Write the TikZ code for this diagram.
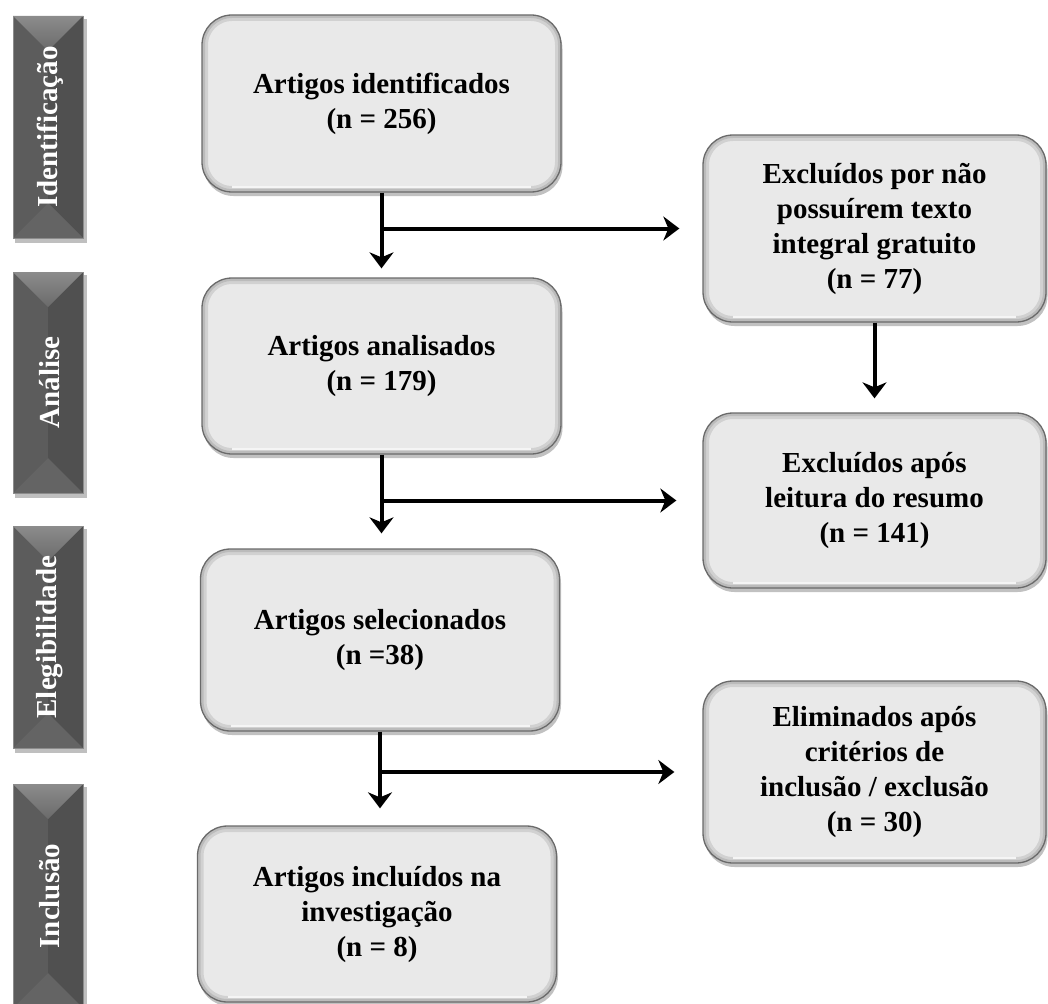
\documentclass[tikz,border=0pt]{standalone}
\usepackage{fontspec}
\setmainfont{Liberation Serif}
\usetikzlibrary{arrows.meta,shadows,calc}
\definecolor{boxfill}{HTML}{E9E9E9}
\definecolor{boxline}{HTML}{6A6A6A}
\definecolor{barbase}{HTML}{545454}
\definecolor{barleft}{HTML}{5C5C5C}
\definecolor{barright}{HTML}{505050}
\definecolor{bartoptop}{HTML}{8C8C8C}
\definecolor{bartopbot}{HTML}{6A6A6A}
\definecolor{barbot}{HTML}{646464}
\newcommand\phasebar[4]{%
  \fill[black, opacity=0.25] (15,{#1+3}) rectangle (87,{#2+5});
  \fill[barbase] (13,#1) rectangle (83,#2);
  \fill[barleft] (13,#1) -- (48,{#1+35}) -- (48,{#2-35}) -- (13,#2) -- cycle;
  \fill[barright] (83,#1) -- (48,{#1+35}) -- (48,{#2-35}) -- (83,#2) -- cycle;
  \shade[top color=bartoptop, bottom color=bartopbot] (13,#1) -- (83,#1) -- (48,{#1+35}) -- cycle;
  \fill[barbot] (13,#2) -- (83,#2) -- (48,{#2-35}) -- cycle;
  \draw[black!45, line width=0.8pt] (13,#1) rectangle (83,#2);
  \node[phasetext] (#4) at (50,{(#1+#2)/2}) {#3};
}
\begin{document}
\begin{tikzpicture}[x=1pt,y=-1pt,
  flowbox/.style={draw=boxline, line width=1.3pt, fill=boxfill, rounded corners=30pt,
    align=center, inner sep=0pt, text=black,
    font=\fontsize{29}{35}\selectfont\bfseries,
    drop shadow={shadow xshift=1.5pt, shadow yshift=-4pt, opacity=0.35, fill=black!70},
    path picture={
      \draw[black, opacity=0.10, line width=12pt, rounded corners=30pt]
        (path picture bounding box.south west) rectangle (path picture bounding box.north east);
      \draw[black, opacity=0.10, line width=6pt, rounded corners=30pt]
        (path picture bounding box.south west) rectangle (path picture bounding box.north east);
      \draw[white, opacity=0.8, line width=2pt]
        ($(path picture bounding box.south west)+(30,-5)$) -- ($(path picture bounding box.south east)+(-30,-5)$);
    }},
  leftbox/.style={flowbox, minimum width=359pt},
  rightbox/.style={flowbox, minimum width=343pt},
  phasetext/.style={rotate=90, text=white, inner sep=0pt,
    font=\fontsize{29}{35}\selectfont\bfseries},
  flow/.style={line width=4pt, -{Stealth[length=16pt,width=24pt,inset=5pt]}}
]
\useasboundingbox (0,0) rectangle (1048,1003);

% phase bars
\phasebar{16}{238}{Identificação}{p1}
\phasebar{272}{493}{Análise}{p2}
\phasebar{526}{748}{Elegibilidade}{p3}
\phasebar{784}{1008}{Inclusão}{p4}

% main column
\node[leftbox, minimum height=177pt] (b1) at (381.5,103.5) {Artigos identificados\\(n = 256)};
\node[leftbox, minimum height=176pt] (b2) at (381.5,366) {Artigos analisados\\(n = 179)};
\node[leftbox, minimum height=182pt] (b3) at (380,640) {Artigos selecionados\\(n =38)};
\node[leftbox, minimum height=176pt] (b4) at (377,914) {Artigos incluídos na\\investigação\\(n = 8)};

% right column
\node[rightbox, minimum height=187pt] (r1) at (874.5,228.5) {Excluídos por não\\possuírem texto\\integral gratuito\\(n = 77)};
\node[rightbox, minimum height=175pt] (r2) at (874.5,500.5) {Excluídos após\\leitura do resumo\\(n = 141)};
\node[rightbox, minimum height=182pt] (r3) at (874.5,772) {Eliminados após\\critérios de\\inclusão / exclusão\\(n = 30)};

% connectors
\draw[flow, shorten >=9pt] (b1.south) -- (b1.south |- b2.north);
\draw[flow, shorten >=23pt] (b1.south |- r1.west) -- (r1.west);
\draw[flow, shorten >=14pt] (r1.south) -- (r2.north);
\draw[flow, shorten >=15pt] (b2.south) -- (b2.south |- b3.north);
\draw[flow, shorten >=26pt] (b2.south |- r2.west) -- (r2.west);
\draw[flow, shorten >=17pt] (b3.south) -- (b3.south |- b4.north);
\draw[flow, shorten >=28pt] (b3.south |- r3.west) -- (r3.west);
\end{tikzpicture}
\end{document}
